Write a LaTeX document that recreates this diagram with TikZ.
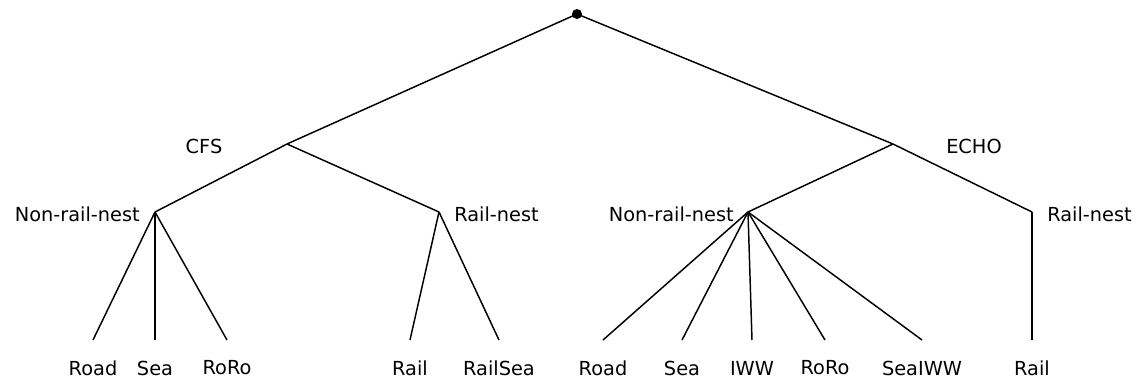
\documentclass[tikz,border=0pt]{standalone}
\usepackage{fontspec}
\setmainfont{DejaVu Sans}
\usetikzlibrary{calc}
\newcommand{\leafArm}[4]{\coordinate (#1) at (#2, 340); \node[leaf] (#1-txt) at (#2, 368) {#3}; \draw[branch] (#4) -- (#1);}

\begin{document}
\begin{tikzpicture}[x=0.75pt, y=-0.75pt,
        branch/.style={line width=1.1pt},
        lbl/.style={font=\fontsize{14.5}{17}\selectfont, inner sep=0pt},
        leaf/.style={lbl}]
        \useasboundingbox (0,0) rectangle (1140,385);
        % root
        \node[circle, fill, inner sep=0pt, minimum size=7.5pt] (root) at (577,14) {};
        % level1
        \coordinate (cfs) at (287,144);
        \coordinate (echo) at (893,144);
        \node[lbl] (cfs-txt) at (204,146) {CFS};
        \node[lbl] (echo-txt) at (974,146) {ECHO};
        \draw[branch] (root.center) -- (cfs);
        \draw[branch] (root.center) -- (echo);
        % level2
        \coordinate (cfsnr) at (155,212);
        \coordinate (cfsr) at (439,212);
        \coordinate (echonr) at (748,212);
        \coordinate (echor) at (1032,212);
        \node[lbl, anchor=east] (cfsnr-txt) at (140,214) {Non-rail-nest};
        \node[lbl, anchor=west] (cfsr-txt) at (454,214) {Rail-nest};
        \node[lbl, anchor=east] (echonr-txt) at (734,214) {Non-rail-nest};
        \node[lbl, anchor=west] (echor-txt) at (1047,214) {Rail-nest};
        \draw[branch] (cfs) -- (cfsnr);
        \draw[branch] (cfs) -- (cfsr);
        \draw[branch] (echo) -- (echonr);
        \draw[branch] (echo) -- (echor);
        % CFS leaves
        \leafArm{c1}{93}{Road}{cfsnr}
        \leafArm{c2}{155}{Sea}{cfsnr}
        \leafArm{c3}{227}{RoRo}{cfsnr}
        \leafArm{c4}{410}{Rail}{cfsr}
        \leafArm{c5}{499}{RailSea}{cfsr}
        % ECHO leaves
        \leafArm{e1}{603}{Road}{echonr}
        \leafArm{e2}{682}{Sea}{echonr}
        \leafArm{e3}{752}{IWW}{echonr}
        \leafArm{e4}{825}{RoRo}{echonr}
        \leafArm{e5}{922}{SeaIWW}{echonr}
        \leafArm{e6}{1032}{Rail}{echor}
    \end{tikzpicture}
\end{document}
